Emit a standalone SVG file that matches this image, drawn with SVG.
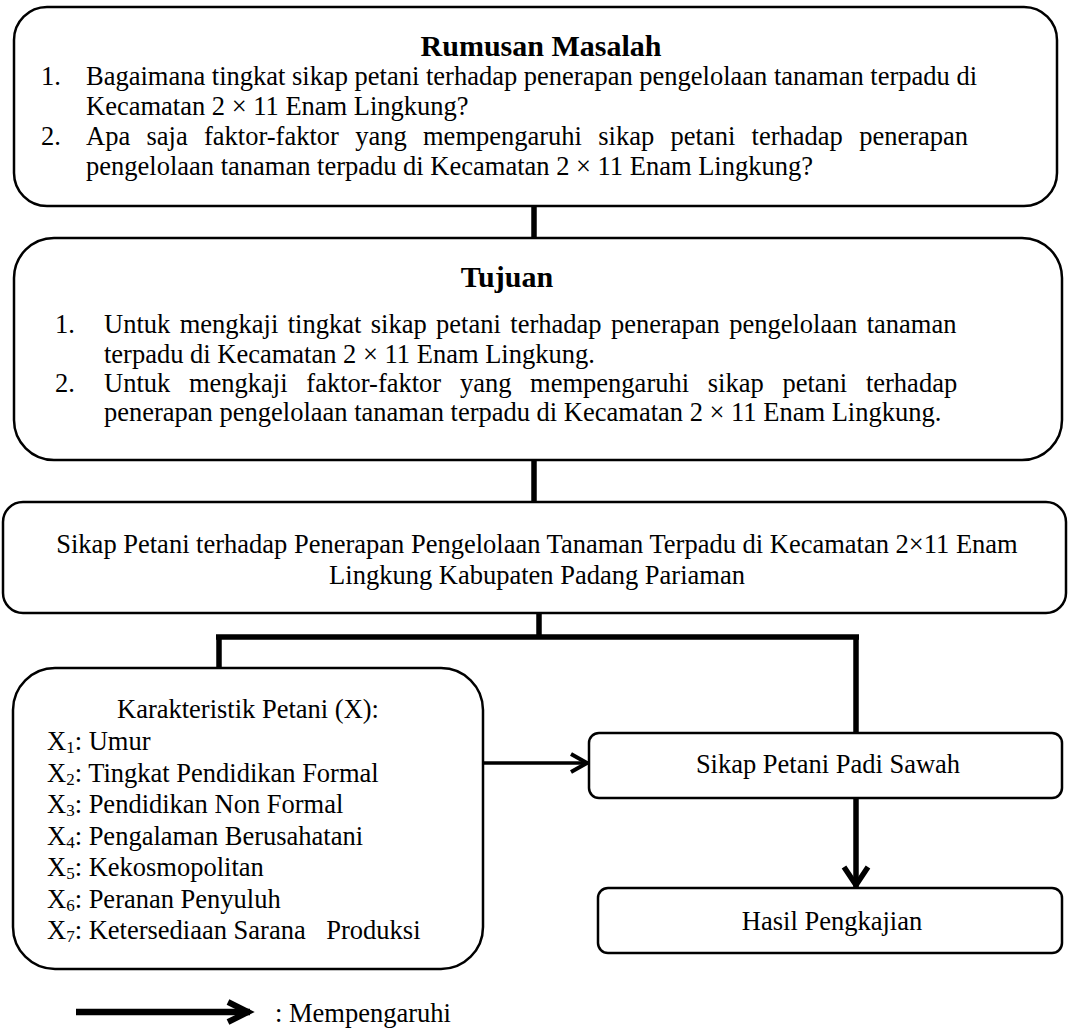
<svg xmlns="http://www.w3.org/2000/svg" width="1069" height="1034" viewBox="0 0 1069 1034">
<style>
  .box { fill: #fff; stroke: #000; stroke-width: 2.5; }
  text { font-family: "Liberation Serif", "Times New Roman", serif; font-size: 26.5px; fill: #000; }
  .title { font-weight: bold; font-size: 30px; text-anchor: middle; }
  .mid { text-anchor: middle; }
  .sub { font-size: 17px; }
  .conn { fill: none; stroke: #000; stroke-width: 5.5; stroke-linecap: butt; }
</style>
<defs>
  <marker id="chevBig" markerUnits="userSpaceOnUse" markerWidth="40" markerHeight="40" viewBox="-30 -20 40 40" refX="0" refY="0" orient="auto" overflow="visible">
    <path d="M-20,-12 L-2,0 L-20,12" fill="none" stroke="#000" stroke-width="5.5"/>
  </marker>
  <marker id="chevSmall" markerUnits="userSpaceOnUse" markerWidth="40" markerHeight="40" viewBox="-30 -20 40 40" refX="0" refY="0" orient="auto" overflow="visible">
    <path d="M-17,-9 L-1,0 L-17,9" fill="none" stroke="#000" stroke-width="4"/>
  </marker>
  <marker id="chevLegend" markerUnits="userSpaceOnUse" markerWidth="40" markerHeight="40" viewBox="-30 -20 40 40" refX="0" refY="0" orient="auto" overflow="visible">
    <path d="M-22,-10 L-2,0 L-22,10" fill="none" stroke="#000" stroke-width="6"/>
  </marker>
</defs>

<g id="connectors">
  <path class="conn" d="M534,206 V238"/>
  <path class="conn" d="M534,460 V502"/>
  <path class="conn" d="M539,613 V637 M216,637 H859 M219,637 V668 M856,637 V733"/>
  <path class="conn" d="M483,763 H588" style="stroke-width:3.5" marker-end="url(#chevSmall)"/>
  <path class="conn" d="M856,798 V887" marker-end="url(#chevBig)"/>
</g>

<g id="rumusan">
  <rect class="box" x="14" y="7" width="1043" height="199" rx="33"/>
  <text class="title" x="541" y="56">Rumusan Masalah</text>
  <text x="41" y="85">1.</text>
  <text x="86" y="85">Bagaimana tingkat sikap petani terhadap penerapan pengelolaan tanaman terpadu di</text>
  <text x="86" y="115">Kecamatan 2 × 11 Enam Lingkung?</text>
  <text x="41" y="145">2.</text>
  <text x="86" y="145" word-spacing="9.7">Apa saja faktor-faktor yang mempengaruhi sikap petani terhadap penerapan</text>
  <text x="86" y="175">pengelolaan tanaman terpadu di Kecamatan 2 × 11 Enam Lingkung?</text>
</g>

<g id="tujuan">
  <rect class="box" x="14" y="238" width="1048" height="222" rx="40"/>
  <text class="title" x="507" y="287">Tujuan</text>
  <text x="55" y="333">1.</text>
  <text x="104" y="333" word-spacing="2.8">Untuk mengkaji tingkat sikap petani terhadap penerapan pengelolaan tanaman</text>
  <text x="104" y="363">terpadu di Kecamatan 2 × 11 Enam Lingkung.</text>
  <text x="55" y="392">2.</text>
  <text x="104" y="392" word-spacing="12.1">Untuk mengkaji faktor-faktor yang mempengaruhi sikap petani terhadap</text>
  <text x="104" y="421">penerapan pengelolaan tanaman terpadu di Kecamatan 2 × 11 Enam Lingkung.</text>
</g>

<g id="sikap-pptt">
  <rect class="box" x="3" y="502" width="1063" height="111" rx="20"/>
  <text class="mid" x="537" y="553">Sikap Petani terhadap Penerapan Pengelolaan Tanaman Terpadu di Kecamatan 2×11 Enam</text>
  <text class="mid" x="537" y="584">Lingkung Kabupaten Padang Pariaman</text>
</g>

<g id="karakteristik">
  <rect class="box" x="13" y="668" width="470" height="301" rx="42"/>
  <text class="mid" x="248" y="718">Karakteristik Petani (X):</text>
  <text x="47" y="750">X<tspan class="sub" dy="3">1</tspan><tspan dy="-3">: Umur</tspan></text>
  <text x="47" y="781.5">X<tspan class="sub" dy="3">2</tspan><tspan dy="-3">: Tingkat Pendidikan Formal</tspan></text>
  <text x="47" y="813">X<tspan class="sub" dy="3">3</tspan><tspan dy="-3">: Pendidikan Non Formal</tspan></text>
  <text x="47" y="844.5">X<tspan class="sub" dy="3">4</tspan><tspan dy="-3">: Pengalaman Berusahatani</tspan></text>
  <text x="47" y="876">X<tspan class="sub" dy="3">5</tspan><tspan dy="-3">: Kekosmopolitan</tspan></text>
  <text x="47" y="907.5">X<tspan class="sub" dy="3">6</tspan><tspan dy="-3">: Peranan Penyuluh</tspan></text>
  <text x="47" y="939">X<tspan class="sub" dy="3">7</tspan><tspan dy="-3">: Ketersediaan Sarana</tspan><tspan dx="14"> Produksi</tspan></text>
</g>

<g id="sikap-padi">
  <rect class="box" x="589" y="733" width="473" height="65" rx="10"/>
  <text class="mid" x="828" y="773">Sikap Petani Padi Sawah</text>
</g>

<g id="hasil">
  <rect class="box" x="598" y="888" width="464" height="65" rx="10"/>
  <text class="mid" x="832" y="930">Hasil Pengkajian</text>
</g>

<g id="legend">
  <path class="conn" d="M76,1012 H250" style="stroke-width:6.5" marker-end="url(#chevLegend)"/>
  <text x="275" y="1022" font-size="32">: Mempengaruhi</text>
</g>
</svg>
